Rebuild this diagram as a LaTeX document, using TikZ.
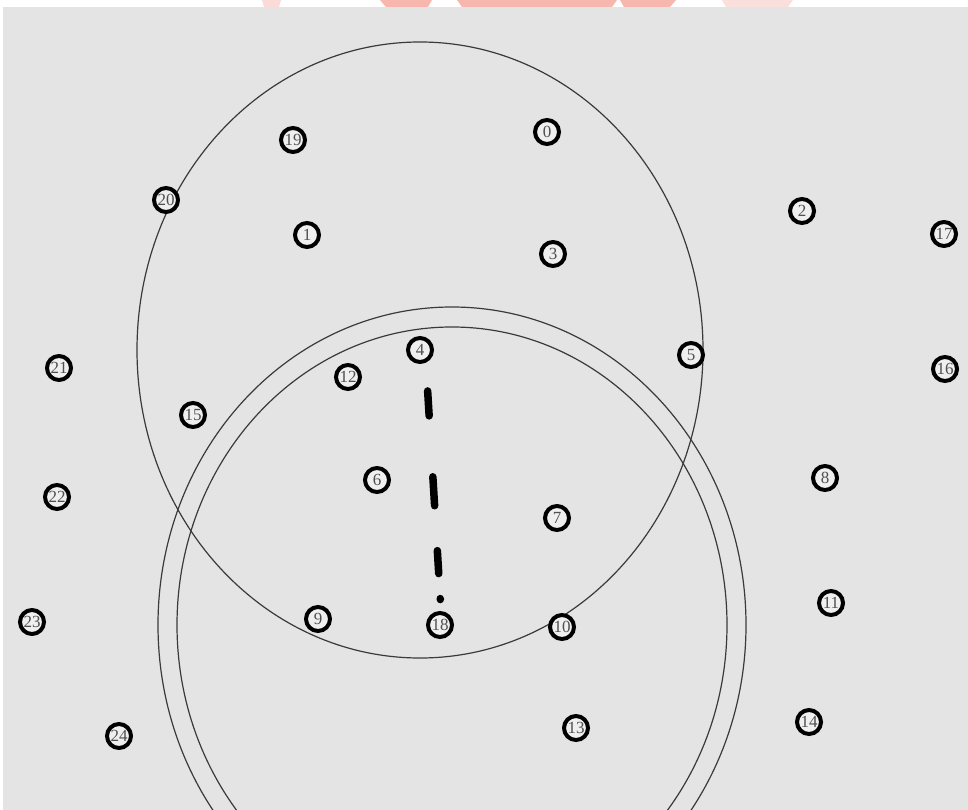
\documentclass[tikz,border=0pt]{standalone}
\usepackage{fontspec}
\setmainfont{Liberation Serif}
\definecolor{bgc}{RGB}{228,228,228}
\definecolor{ringc}{RGB}{58,58,58}
\definecolor{numc}{RGB}{80,80,80}
\definecolor{pinkc}{RGB}{245,165,155}
\tikzset{
  pt/.style={circle,draw=black,line width=4pt,fill=bgc!60!white,minimum size=24pt,inner sep=0pt,
    text=numc,font=\fontsize{17}{17}\selectfont},
  ring/.style={draw=ringc,line width=1.2pt},
  dashline/.style={line width=7.5pt,line cap=round,
    dash pattern=on 25pt off 61pt on 29pt off 45pt on 23pt off 25pt on 1pt off 200pt}
}
\begin{document}
\begin{tikzpicture}[x=1pt,y=-1pt]
\useasboundingbox (0,0) rectangle (968,810);
\fill[white] (0,0) rectangle (968,810);
% faint watermark in the top strip
\fill[pinkc,opacity=0.4] (262,0) -- (281,0) -- (279,7) -- (264,7) -- cycle;
\fill[pinkc,opacity=0.8] (380,0) -- (432,0) -- (428,7) -- (386,7) -- cycle;
\fill[pinkc,opacity=0.8] (457,0) -- (617,0) -- (612,7) -- (462,7) -- cycle;
\fill[pinkc,opacity=0.8] (620,0) -- (676,0) -- (670,7) -- (624,7) -- cycle;
\fill[pinkc,opacity=0.35] (722,0) -- (793,0) -- (788,7) -- (726,7) -- cycle;
\fill[bgc] (3,7) rectangle (968,810);
\begin{scope}
\clip (3,7) rectangle (968,810);
\draw[ring] (420,350) ellipse [x radius=283pt, y radius=308pt];
\draw[ring] (452,625) ellipse [x radius=294pt, y radius=318pt];
\draw[ring] (452,625) ellipse [x radius=275pt, y radius=298pt];
\end{scope}
\node[pt] (n0)  at (547,132) {0};
\node[pt] (n1)  at (307,235) {1};
\node[pt] (n2)  at (802,211) {2};
\node[pt] (n3)  at (553,254) {3};
\node[pt] (n4)  at (420,350) {4};
\node[pt] (n5)  at (691,355) {5};
\node[pt] (n6)  at (377,480) {6};
\node[pt] (n7)  at (557,518) {7};
\node[pt] (n8)  at (825,478) {8};
\node[pt] (n9)  at (318,619) {9};
\node[pt] (n10) at (562,627) {10};
\node[pt] (n11) at (831,603) {11};
\node[pt] (n12) at (348,377) {12};
\node[pt] (n13) at (576,728) {13};
\node[pt] (n14) at (809,722) {14};
\node[pt] (n15) at (193,415) {15};
\node[pt] (n16) at (945,369) {16};
\node[pt] (n17) at (944,234) {17};
\node[pt] (n18) at (440,625) {18};
\node[pt] (n19) at (293,140) {19};
\node[pt] (n20) at (166,200) {20};
\node[pt] (n21) at (59,368) {21};
\node[pt] (n22) at (57,497) {22};
\node[pt] (n23) at (32,622) {23};
\node[pt] (n24) at (119,736) {24};
\draw[dashline,shorten <=27pt,shorten >=2pt] ([xshift=6pt]n4.south) -- ([xshift=1pt]n18.north);
\end{tikzpicture}
\end{document}
